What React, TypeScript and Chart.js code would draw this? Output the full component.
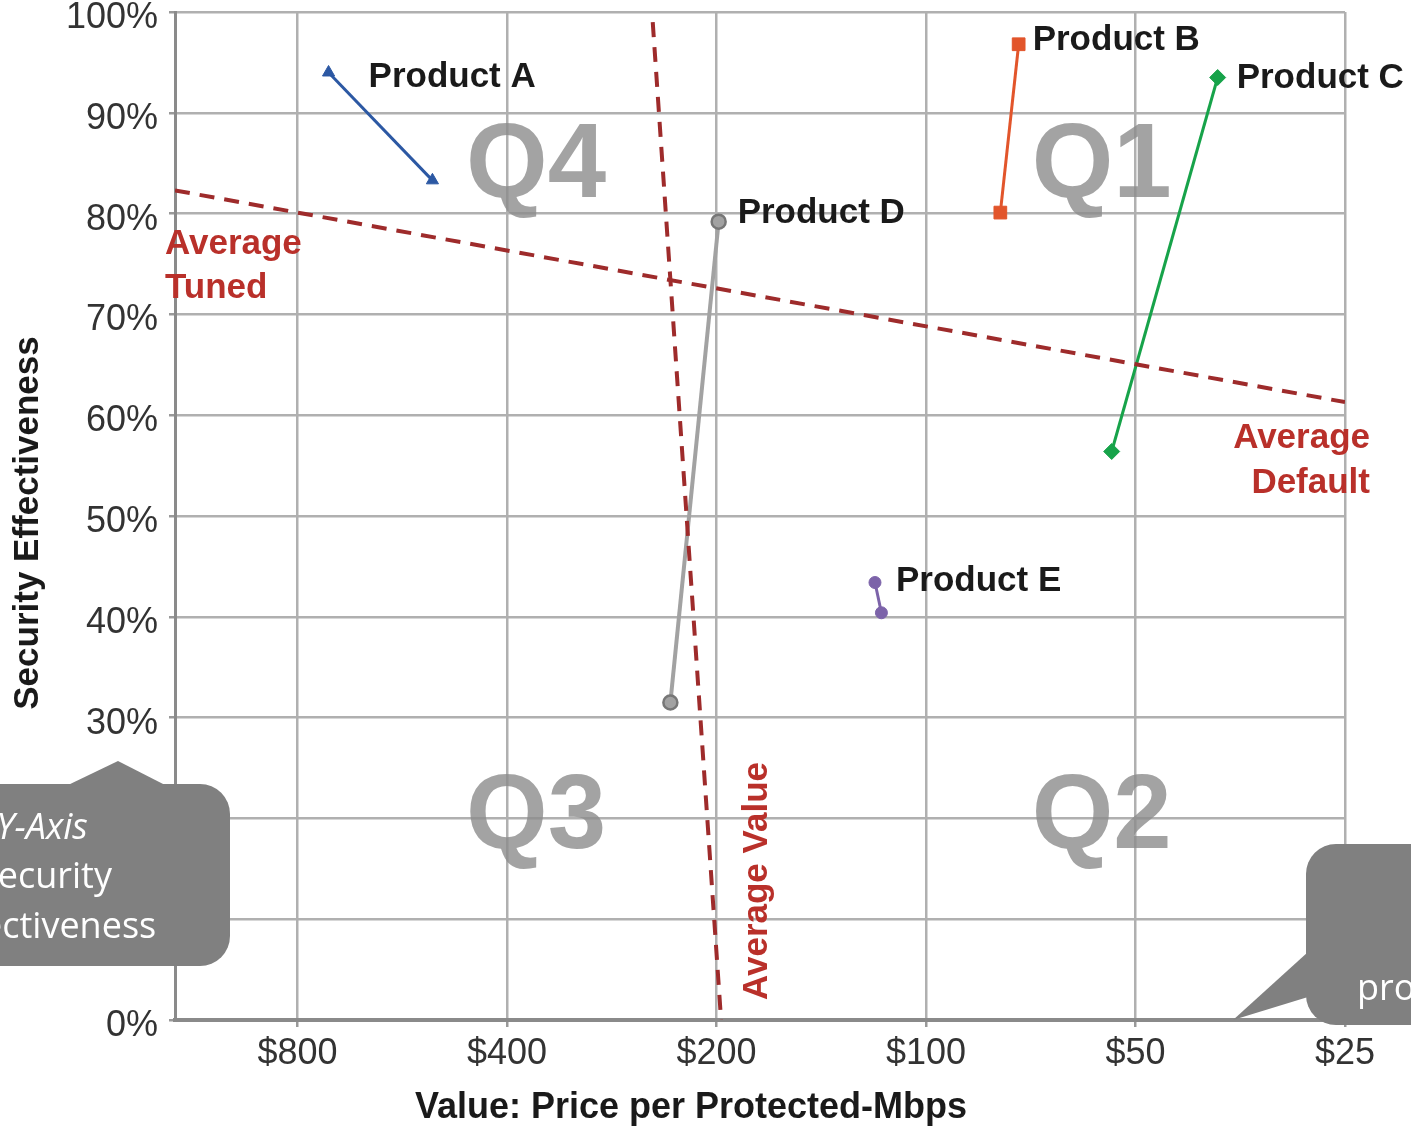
import React, { useEffect, useRef } from 'react';
import { Chart, registerables } from 'chart.js';
Chart.register(...registerables);

// ---- data ----
const xTickValues = [800, 400, 200, 100, 50, 25];
const yTickValues = [0, 10, 20, 30, 40, 50, 60, 70, 80, 90, 100];

const productLabels = ['Product A', 'Product B', 'Product C', 'Product D', 'Product E'];
const productAPrices = [722, 512];
const productAScores = [94.0, 83.3];
const productBPrices = [73.6, 78.2];
const productBScores = [96.8, 80.1];
const productCPrices = [38.1, 54.1];
const productCScores = [93.5, 56.4];
const productDPrices = [198.6, 233];
const productDScores = [79.2, 31.5];
const productEPrices = [118.4, 115.9];
const productEScores = [43.4, 40.4];

const avgTunedPrices = [1200, 25];
const avgTunedScores = [82.3, 61.3];
const avgValuePrices = [247, 197];
const avgValueScores = [99, 0];

const quadrantLabels = ['Q1', 'Q2', 'Q3', 'Q4'];
const quadrantPrices = [70.5, 70.5, 458, 458];
const quadrantScores = [81.6, 17.1, 17.1, 81.6];

// ---- styles ----
const FONT = '"Liberation Sans", Arial, sans-serif';
const CALLOUT_FONT = '"Open Sans", sans-serif';
const productColors = ['#2c58a3', '#e2552b', '#17a34a', '#a2a2a2', '#7c63a9'];
const productPointStyles = ['triangle', 'rect', 'rectRot', 'circle', 'circle'];
const productPointRadius = [7, 9, 8, 7, 6];
// label offsets (pixels) from each product's first point
const labelOffsets = [[40, 15], [14, 6], [19, 10], [19, 1], [21, 8]];
const avgLineColor = '#9e2b2b';
const avgTextColor = '#b9302a';

const toPoints = (xs: number[], ys: number[]) => xs.map((x, i) => ({ x, y: ys[i] }));

const productPrices = [productAPrices, productBPrices, productCPrices, productDPrices, productEPrices];
const productScores = [productAScores, productBScores, productCScores, productDScores, productEScores];

function roundRectPath(ctx: CanvasRenderingContext2D, x: number, y: number, w: number, h: number, r: number) {
  ctx.beginPath();
  ctx.moveTo(x + r, y);
  ctx.lineTo(x + w - r, y);
  ctx.arcTo(x + w, y, x + w, y + r, r);
  ctx.lineTo(x + w, y + h - r);
  ctx.arcTo(x + w, y + h, x + w - r, y + h, r);
  ctx.lineTo(x + r, y + h);
  ctx.arcTo(x, y + h, x, y + h - r, r);
  ctx.lineTo(x, y + r);
  ctx.arcTo(x, y, x + r, y, r);
  ctx.closePath();
}

const annotationPlugin = {
  id: 'annotations',
  beforeDatasetsDraw(chart: any) {
    const { ctx, scales } = chart;
    const xs = scales.x, ys = scales.y;
    ctx.save();
    ctx.font = `bold 105px ${FONT}`;
    ctx.fillStyle = 'rgba(140,140,140,0.8)';
    ctx.textAlign = 'left';
    ctx.textBaseline = 'alphabetic';
    quadrantLabels.forEach((q, i) => {
      ctx.fillText(q, xs.getPixelForValue(quadrantPrices[i]), ys.getPixelForValue(quadrantScores[i]));
    });
    ctx.restore();
  },
  afterDraw(chart: any) {
    const { ctx, scales, chartArea } = chart;
    const xs = scales.x, ys = scales.y;
    ctx.save();
    // product labels
    ctx.font = `bold 35px ${FONT}`;
    ctx.fillStyle = '#1a1a1a';
    ctx.textAlign = 'left';
    ctx.textBaseline = 'alphabetic';
    productLabels.forEach((name, i) => {
      const px = xs.getPixelForValue(productPrices[i][0]);
      const py = ys.getPixelForValue(productScores[i][0]);
      ctx.fillText(name, px + labelOffsets[i][0], py + labelOffsets[i][1]);
    });

    // average labels
    ctx.font = `bold 35px ${FONT}`;
    ctx.fillStyle = avgTextColor;
    const tx = xs.getPixelForValue(avgTunedPrices[0]);
    const ty = ys.getPixelForValue(avgTunedScores[0]);
    ctx.textAlign = 'left';
    ctx.fillText('Average', tx - 10, ty + 64);
    ctx.fillText('Tuned', tx - 10, ty + 108);
    const dx = xs.getPixelForValue(avgTunedPrices[1]);
    const dy = ys.getPixelForValue(avgTunedScores[1]);
    ctx.textAlign = 'right';
    ctx.fillText('Average', dx + 25, dy + 46);
    ctx.fillText('Default', dx + 25, dy + 91);
    const vx = xs.getPixelForValue(avgValuePrices[1]);
    const vy = ys.getPixelForValue(avgValueScores[1]);
    ctx.save();
    ctx.translate(vx + 46, vy - 20);
    ctx.rotate(-Math.PI / 2);
    ctx.textAlign = 'left';
    ctx.fillText('Average Value', 0, 0);
    ctx.restore();

    // axis titles
    ctx.fillStyle = '#1a1a1a';
    ctx.font = `bold 36px ${FONT}`;
    ctx.textAlign = 'center';
    ctx.fillText('Value: Price per Protected-Mbps', chartArea.left + 516, 1118);
    ctx.font = `bold 35px ${FONT}`;
    ctx.save();
    ctx.translate(38, (chartArea.top + chartArea.bottom) / 2 + 7);
    ctx.rotate(-Math.PI / 2);
    ctx.fillText('Security Effectiveness', 0, 0);
    ctx.restore();

    // left callout
    ctx.fillStyle = '#808080';
    roundRectPath(ctx, -150, 784, 380, 182, 30);
    ctx.fill();
    ctx.beginPath();
    ctx.moveTo(66, 786);
    ctx.lineTo(118, 761);
    ctx.lineTo(167, 786);
    ctx.closePath();
    ctx.fill();
    ctx.fillStyle = '#ffffff';
    ctx.textAlign = 'center';
    ctx.font = `italic 36px ${CALLOUT_FONT}`;
    ctx.fillText('Y-Axis', 42, 839);
    ctx.font = `36px ${CALLOUT_FONT}`;
    ctx.fillText('Security', 45, 888);
    ctx.fillText('Effectiveness', 47, 938);

    // right callout
    ctx.fillStyle = '#808080';
    roundRectPath(ctx, 1306, 844, 300, 181, 30);
    ctx.fill();
    ctx.beginPath();
    ctx.moveTo(1308, 952);
    ctx.lineTo(1233, 1020);
    ctx.lineTo(1308, 997);
    ctx.closePath();
    ctx.fill();
    ctx.fillStyle = '#ffffff';
    ctx.textAlign = 'left';
    ctx.font = `36px ${CALLOUT_FONT}`;
    ctx.fillText('protected-Mbps', 1357, 1000);
    ctx.restore();
  },
};

export default function App() {
  const canvasRef = useRef<HTMLCanvasElement | null>(null);

  useEffect(() => {
    if (!canvasRef.current) return;
    const productDatasets = productLabels.map((name, i) => ({
      label: name,
      data: toPoints(productPrices[i], productScores[i]),
      showLine: true,
      borderColor: productColors[i],
      backgroundColor: productColors[i],
      borderWidth: i === 3 ? 4 : 3,
      pointStyle: productPointStyles[i],
      pointRadius: productPointRadius[i],
      pointBackgroundColor: productColors[i],
      pointBorderColor: i === 3 ? '#777777' : productColors[i],
      pointBorderWidth: i === 3 ? 2.5 : 1,
    }));
    const chart = new Chart(canvasRef.current, {
      type: 'scatter',
      data: {
        datasets: [
          {
            label: 'Average Tuned/Default',
            data: toPoints(avgTunedPrices, avgTunedScores),
            showLine: true,
            borderColor: avgLineColor,
            borderWidth: 4,
            borderDash: [15, 10],
            pointRadius: 0,
          },
          {
            label: 'Average Value',
            data: toPoints(avgValuePrices, avgValueScores),
            showLine: true,
            borderColor: avgLineColor,
            borderWidth: 4,
            borderDash: [15, 10],
            pointRadius: 0,
          },
          ...productDatasets,
        ] as any,
      },
      options: {
        animation: false,
        responsive: false,
        maintainAspectRatio: false,
        devicePixelRatio: 1,
        layout: { padding: { top: 12, right: 66, bottom: 0, left: 0 } },
        plugins: { legend: { display: false }, tooltip: { enabled: false } },
        scales: {
          x: {
            type: 'logarithmic',
            reverse: true,
            min: 25,
            max: 1200,
            afterBuildTicks: (s: any) => {
              s.ticks = xTickValues.map((v) => ({ value: v }));
            },
            afterFit: (s: any) => {
              s.height = 107;
              s.paddingLeft = 0;
              s.paddingRight = 0;
            },
            ticks: {
              callback: (v: any) => '$' + v,
              font: { size: 36, family: FONT },
              color: '#333333',
              padding: 5,
              maxRotation: 0,
              autoSkip: false,
            },
            grid: { color: '#b0b0b0', lineWidth: 2.5, tickLength: 7, tickColor: '#999999' },
            border: { color: '#8a8a8a', width: 4 },
          },
          y: {
            min: 0,
            max: 100,
            afterBuildTicks: (s: any) => {
              s.ticks = yTickValues.map((v) => ({ value: v }));
            },
            afterFit: (s: any) => {
              s.width = 175;
              s.paddingTop = 0;
              s.paddingBottom = 0;
            },
            ticks: {
              callback: (v: any) => v + '%',
              font: { size: 36, family: FONT },
              color: '#333333',
              padding: 11,
              labelOffset: 6,
            },
            grid: { color: '#b0b0b0', lineWidth: 2.5, tickLength: 6, tickColor: '#999999' },
            border: { color: '#8a8a8a', width: 3 },
          },
        },
      } as any,
      plugins: [annotationPlugin],
    });
    return () => chart.destroy();
  }, []);

  return (
    <div style={{ position: 'absolute', left: 0, top: 0, width: 1411, height: 1127, background: '#fff' }}>
      <canvas ref={canvasRef} width={1411} height={1127} style={{ display: 'block' }} />
    </div>
  );
}
